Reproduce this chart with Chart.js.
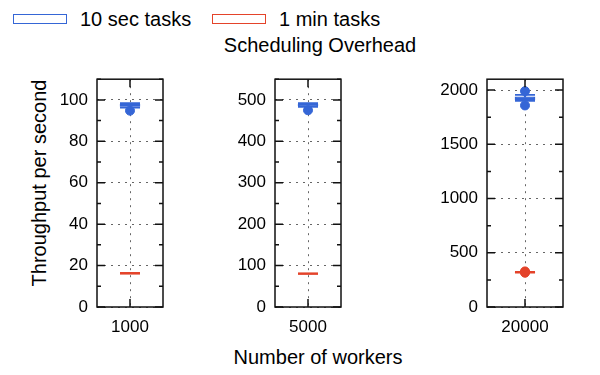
<!DOCTYPE html>
<html>
<head>
<meta charset="utf-8">
<script src="https://cdn.jsdelivr.net/npm/chart.js@4"></script>
<style>
  body { margin: 0; width: 600px; height: 375px; position: relative; background: #fff;
         font-family: "Liberation Sans", Arial, sans-serif; color: #000; overflow: hidden; }
  canvas { position: absolute; top: 60px; }
  .txt { position: absolute; font-size: 20px; line-height: 20px; white-space: nowrap; }
  .swatch { position: absolute; top: 14px; width: 52px; height: 8px; border: 1.5px solid; }
</style>
</head>
<body>
<div class="swatch" style="left:13px;border-color:#3566d6"></div>
<div class="txt" style="left:80px;top:9px">10 sec tasks</div>
<div class="swatch" style="left:212px;border-color:#e4432a"></div>
<div class="txt" style="left:279px;top:9px">1 min tasks</div>
<div class="txt" style="left:320px;top:35px;transform:translateX(-50%)">Scheduling Overhead</div>
<div class="txt" style="left:39px;top:183px;transform:translate(-50%,-50%) rotate(-90deg)">Throughput per second</div>
<div class="txt" style="left:318px;top:347px;transform:translateX(-50%)">Number of workers</div>

<canvas id="c0" width="175" height="280" style="left:0px"></canvas>
<canvas id="c1" width="175" height="280" style="left:180px"></canvas>
<canvas id="c2" width="200" height="280" style="left:390px"></canvas>

<script>
// workers per panel
const categories = ['1000', '5000', '20000'];

// 10 sec tasks (box plot stats per panel)
const fastLow = [96.3, 483, 1900];
const fastQ1 = [96.9, 486, 1912];
const fastMedian = [97.4, 488, 1925];
const fastQ3 = [97.9, 490, 1938];
const fastHigh = [98.4, 492, 1955];
const fastOutliers = [[94.8], [475], [1858, 1990]];

// 1 min tasks
const slowLow = [16.3, 80.5, 318];
const slowQ1 = [16.3, 80.5, 319];
const slowMedian = [16.3, 80.5, 321];
const slowQ3 = [16.3, 80.5, 323];
const slowHigh = [16.3, 80.5, 324];
const slowOutliers = [[], [], [316, 322, 328]];

// y axis per panel
const yMax = [110, 550, 2100];
const yTicks = [
    [0, 20, 40, 60, 80, 100],
    [0, 100, 200, 300, 400, 500],
    [0, 500, 1000, 1500, 2000]
];
const yMinor = [10, 50, 250];

const BLUE = '#3566d6';
const RED = '#e4432a';

// frame with inward ticks like gnuplot
const framePlugin = {
    id: 'frame',
    afterDraw(chart, args, opts) {
        const ctx = chart.ctx;
        const a = chart.chartArea;
        const x = chart.scales.x, y = chart.scales.y;
        ctx.save();
        ctx.strokeStyle = '#111';
        ctx.lineWidth = 1.5;
        ctx.strokeRect(a.left, a.top, a.right - a.left, a.bottom - a.top);
        ctx.beginPath();
        const n = Math.round(opts.max / opts.minor);
        for (let i = 0; i <= n; i++) {
            const v = i * opts.minor;
            const py = y.getPixelForValue(v);
            const len = opts.major.includes(v) ? 8 : 4;
            ctx.moveTo(a.left, py); ctx.lineTo(a.left + len, py);
            ctx.moveTo(a.right, py); ctx.lineTo(a.right - len, py);
        }
        const px = x.getPixelForValue(0);
        ctx.moveTo(px, a.top); ctx.lineTo(px, a.top + 8);
        ctx.moveTo(px, a.bottom); ctx.lineTo(px, a.bottom - 8);
        ctx.stroke();
        ctx.restore();
    }
};

function seriesSets(cat, color, low, q1, med, q3, high, outliers) {
    return [
        {
            type: 'bar', data: [[low, high]], barThickness: 1.5,
            backgroundColor: color, borderWidth: 0, grouped: false, order: 5
        },
        {
            type: 'bar', data: [[q1, q3]], barThickness: 20,
            backgroundColor: '#fff', borderColor: color, borderWidth: 1.5,
            borderSkipped: false, grouped: false, order: 4
        },
        {
            type: 'line', showLine: false,
            data: [{x: cat, y: low}, {x: cat, y: med}, {x: cat, y: high}],
            pointStyle: 'line', pointRadius: 10, pointBorderWidth: 1.8,
            borderColor: color, order: 3
        },
        {
            type: 'line', showLine: false,
            data: outliers.map(v => ({x: cat, y: v})),
            pointStyle: 'circle', pointRadius: 4.5,
            backgroundColor: color, borderColor: color, order: 2
        }
    ];
}

// canvas layout: y axis width, right padding
const yWidth = [97, 95, 97];
const rightPad = [12, 14, 27];

categories.forEach((cat, i) => {
    const datasets = seriesSets(cat, BLUE, fastLow[i], fastQ1[i], fastMedian[i], fastQ3[i], fastHigh[i], fastOutliers[i])
        .concat(seriesSets(cat, RED, slowLow[i], slowQ1[i], slowMedian[i], slowQ3[i], slowHigh[i], slowOutliers[i]));
    new Chart(document.getElementById('c' + i), {
        type: 'bar',
        data: { labels: [cat], datasets: datasets },
        plugins: [framePlugin],
        options: {
            responsive: false,
            animation: false,
            layout: { padding: { top: 15, right: rightPad[i], left: 0, bottom: 0 } },
            plugins: {
                legend: { display: false },
                tooltip: { enabled: false },
                frame: { max: yMax[i], major: yTicks[i], minor: yMinor[i] }
            },
            scales: {
                x: {
                    offset: true,
                    grid: { offset: false, drawTicks: false, color: 'rgba(0,0,0,0.6)' },
                    border: { display: false, dash: [2, 5] },
                    ticks: { color: '#000', padding: 10, font: { family: 'Liberation Sans', size: 17 } },
                    afterFit: s => { s.height = 33; }
                },
                y: {
                    min: 0, max: yMax[i],
                    grid: { drawTicks: false, color: 'rgba(0,0,0,0.6)' },
                    border: { display: false, dash: [2, 5] },
                    afterBuildTicks: s => { s.ticks = yTicks[i].map(v => ({ value: v })); },
                    ticks: {
                        color: '#000', padding: 9,
                        font: { family: 'Liberation Sans', size: 17 },
                        callback: v => String(v)
                    },
                    afterFit: s => { s.width = yWidth[i]; }
                }
            }
        }
    });
});
</script>
</body>
</html>
